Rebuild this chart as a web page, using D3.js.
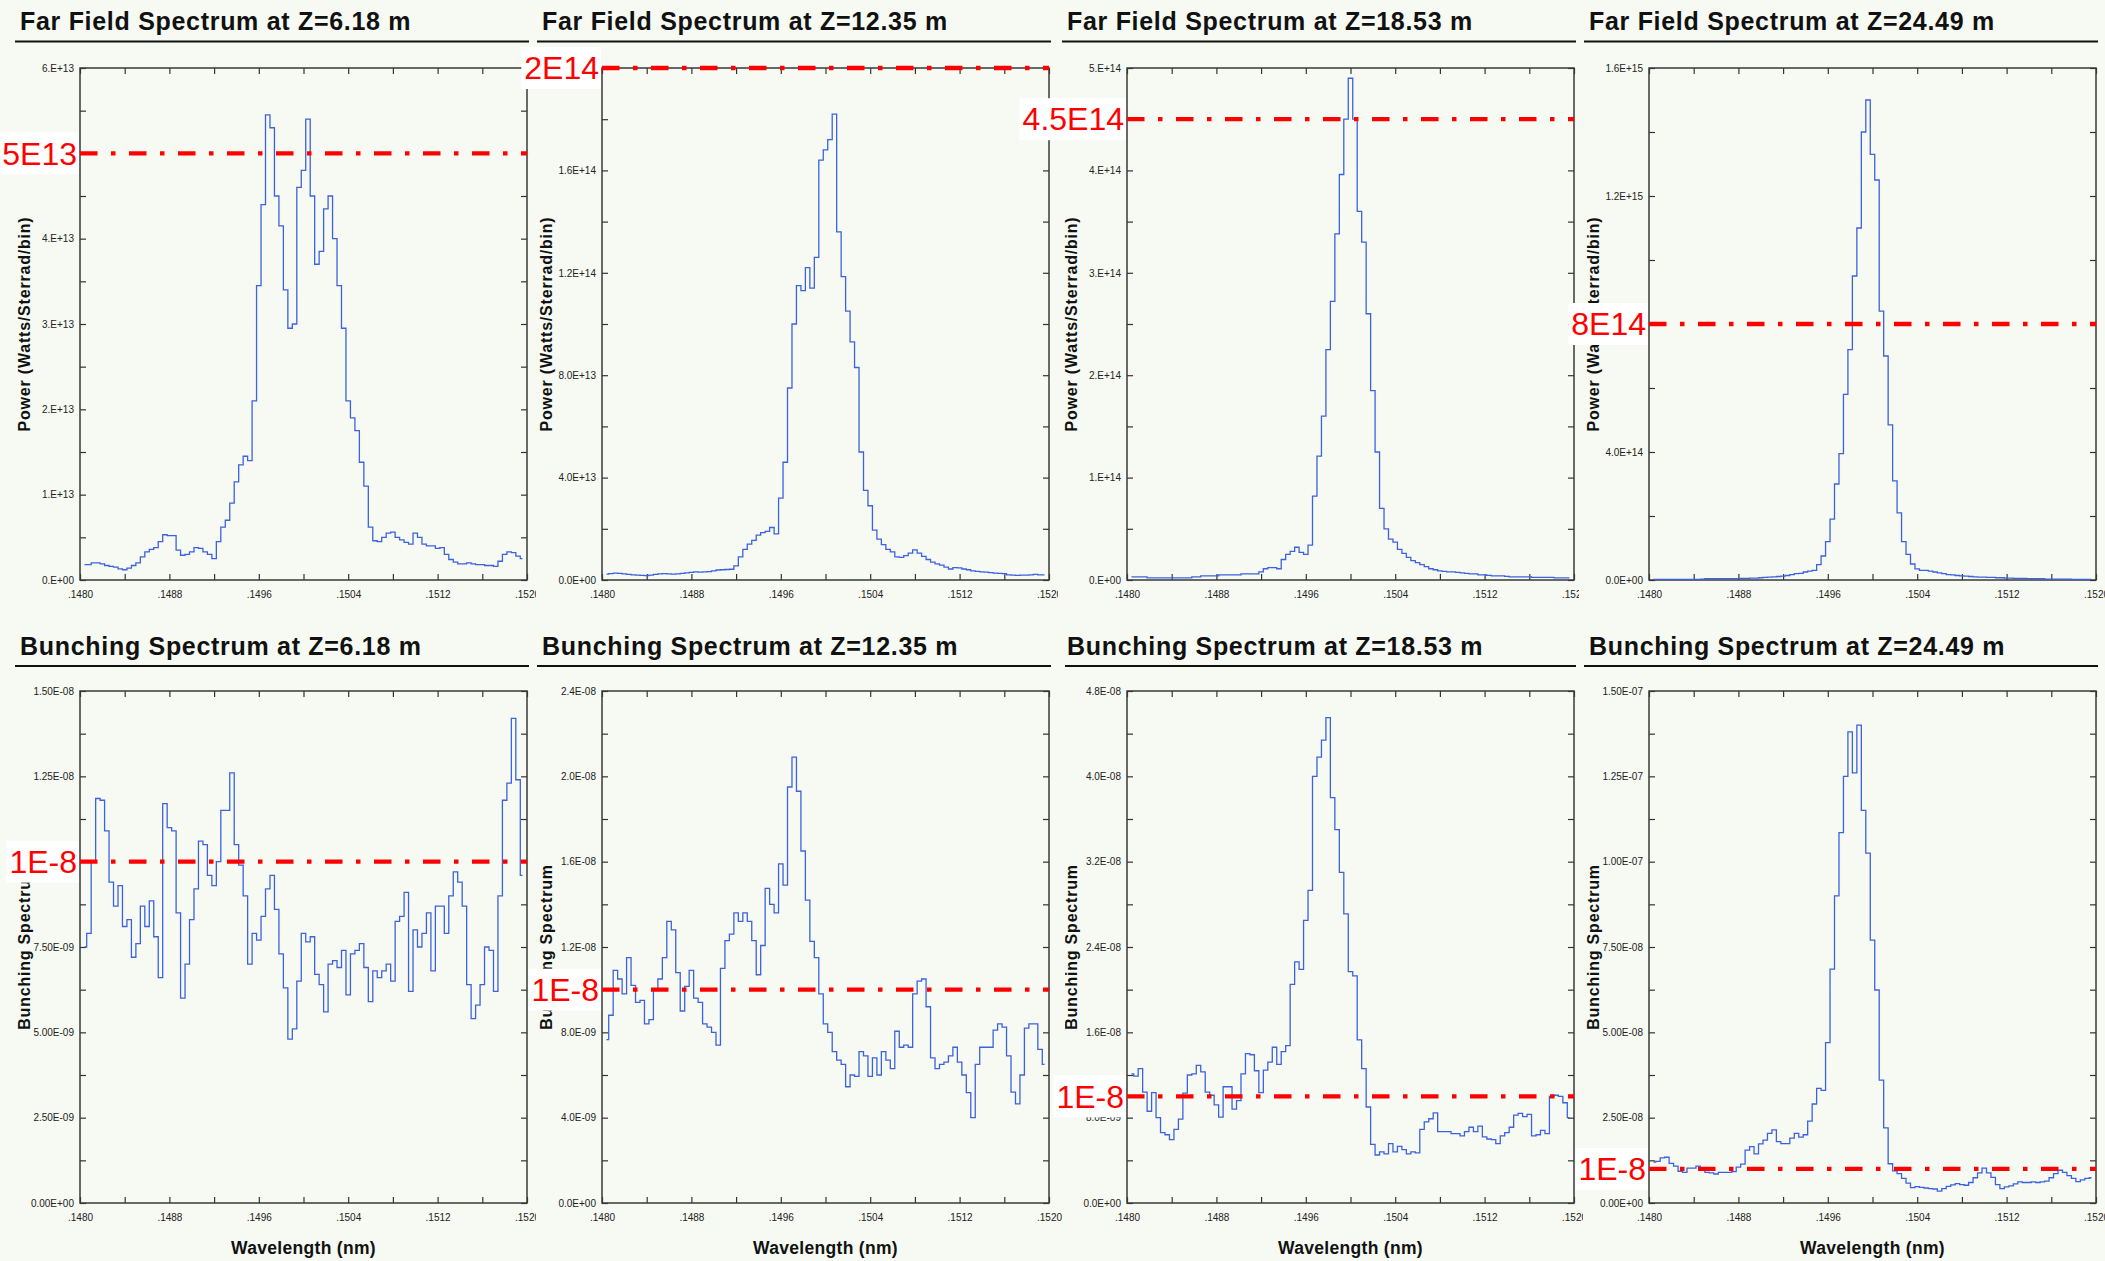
<!DOCTYPE html>
<html>
<head>
<meta charset="utf-8">
<script src="https://cdn.jsdelivr.net/npm/d3@7"></script>
<style>
  body { margin: 0; background: #f6faf3; }
  svg { display: block; font-family: "Liberation Sans", Arial, Helvetica, sans-serif; }
</style>
</head>
<body>
<svg id="chart" width="2105" height="1261"></svg>
<script>
// Data

// wavelength samples (nm)
const wavelength = [
  .14804,.14808,.14812,.14816,.14820,.14824,.14828,.14832,.14836,.14840,
  .14844,.14848,.14852,.14856,.14860,.14864,.14868,.14872,.14876,.14880,
  .14884,.14888,.14892,.14896,.14900,.14904,.14908,.14912,.14916,.14920,
  .14924,.14928,.14932,.14936,.14940,.14944,.14948,.14952,.14956,.14960,
  .14964,.14968,.14972,.14976,.14980,.14984,.14988,.14992,.14996,.15000,
  .15004,.15008,.15012,.15016,.15020,.15024,.15028,.15032,.15036,.15040,
  .15044,.15048,.15052,.15056,.15060,.15064,.15068,.15072,.15076,.15080,
  .15084,.15088,.15092,.15096,.15100,.15104,.15108,.15112,.15116,.15120,
  .15124,.15128,.15132,.15136,.15140,.15144,.15148,.15152,.15156,.15160,
  .15164,.15168,.15172,.15176,.15180,.15184,.15188,.15192,.15196
];

// far field power, units of 1e13
const farField618 = [
  0.18,0.18,0.2,0.2,0.19,0.17,0.16,0.15,0.13,0.12,
  0.14,0.17,0.2,0.27,0.33,0.36,0.38,0.45,0.53,0.52,
  0.52,0.35,0.29,0.3,0.33,0.38,0.37,0.33,0.3,0.25,
  0.45,0.62,0.7,0.9,1.15,1.35,1.45,1.4,2.1,3.45,
  4.4,5.45,5.3,4.5,4.15,3.4,2.95,3.0,4.6,4.8,
  5.4,4.5,3.7,3.85,4.35,4.5,4.0,3.45,2.95,2.1,
  1.9,1.75,1.38,1.1,0.62,0.46,0.45,0.5,0.55,0.56,
  0.5,0.47,0.44,0.42,0.55,0.5,0.42,0.4,0.4,0.37,
  0.38,0.3,0.24,0.21,0.19,0.19,0.2,0.19,0.18,0.18,
  0.17,0.17,0.16,0.22,0.3,0.33,0.32,0.28,0.25
];
// units of 1e13
const farField1235 = [
  0.23,0.25,0.27,0.26,0.24,0.22,0.2,0.19,0.18,0.17,
  0.19,0.22,0.24,0.25,0.24,0.23,0.24,0.26,0.28,0.3,
  0.32,0.31,0.32,0.33,0.36,0.39,0.4,0.41,0.42,0.55,
  0.9,1.2,1.4,1.55,1.75,1.85,1.9,2.05,1.8,3.2,
  4.6,7.5,10.0,11.5,11.3,12.2,11.4,12.6,16.4,16.8,
  17.2,18.2,13.6,11.85,10.5,9.3,8.3,5.0,3.5,2.9,
  1.95,1.6,1.38,1.2,1.1,0.9,0.88,0.95,1.05,1.18,
  1.05,0.92,0.8,0.7,0.63,0.58,0.5,0.43,0.48,0.47,
  0.43,0.4,0.36,0.34,0.32,0.31,0.29,0.27,0.26,0.25,
  0.2,0.19,0.18,0.19,0.19,0.2,0.22,0.2,0.2
];
// units of 1e14
const farField1853 = [
  0.03,0.03,0.03,0.03,0.02,0.02,0.02,0.02,0.02,0.02,
  0.02,0.02,0.02,0.02,0.03,0.03,0.04,0.04,0.04,0.04,
  0.05,0.05,0.05,0.05,0.05,0.06,0.06,0.06,0.06,0.08,
  0.11,0.12,0.12,0.11,0.2,0.25,0.28,0.32,0.27,0.25,
  0.34,0.82,1.21,1.6,2.25,2.72,3.38,3.96,4.5,4.9,
  4.5,3.6,3.3,2.6,1.85,1.25,0.7,0.5,0.4,0.37,
  0.3,0.26,0.22,0.19,0.17,0.15,0.13,0.11,0.1,0.09,
  0.085,0.08,0.08,0.075,0.07,0.065,0.06,0.06,0.05,0.05,
  0.045,0.04,0.04,0.04,0.035,0.03,0.03,0.03,0.03,0.03,
  0.025,0.025,0.025,0.025,0.025,0.02,0.02,0.02,0.02
];
// units of 1e14
const farField2449 = [
  0.02,0.02,0.02,0.02,0.02,0.02,0.02,0.02,0.02,0.02,
  0.02,0.03,0.04,0.04,0.04,0.04,0.04,0.04,0.04,0.04,
  0.05,0.05,0.06,0.06,0.07,0.08,0.09,0.1,0.11,0.12,
  0.14,0.17,0.2,0.21,0.25,0.28,0.3,0.48,0.75,1.2,
  1.9,3.0,3.95,5.8,7.2,9.5,11.0,14.0,15.0,13.3,
  12.5,8.4,7.0,4.85,3.1,2.1,1.2,0.8,0.5,0.35,
  0.3,0.3,0.28,0.25,0.22,0.2,0.17,0.16,0.14,0.13,
  0.12,0.11,0.1,0.09,0.09,0.08,0.08,0.07,0.07,0.06,
  0.06,0.05,0.05,0.05,0.04,0.04,0.04,0.04,0.03,0.03,
  0.03,0.03,0.03,0.03,0.02,0.02,0.02,0.02,0.02
];

// bunching spectrum, units of 1e-9
const bunching618 = [
  7.5,7.9,10.0,11.85,11.8,10.9,9.4,8.7,9.3,8.1,
  8.3,7.2,7.6,8.7,8.1,8.85,7.8,6.6,11.7,11.0,
  10.9,8.5,6.0,7.0,8.3,9.2,10.6,10.5,9.6,9.3,
  10.0,11.5,11.5,12.6,10.5,9.9,9.0,7.0,7.9,7.7,
  8.4,9.2,9.6,8.6,7.3,6.3,4.8,5.1,6.5,7.9,
  7.65,7.8,6.7,6.4,5.6,7.0,7.1,6.9,7.4,6.1,
  7.3,7.4,7.6,6.9,5.9,6.8,6.6,6.8,7.0,6.5,
  8.25,8.4,9.1,6.2,8.0,7.5,7.9,8.5,6.8,8.7,
  8.7,7.9,9.0,9.7,9.4,8.7,6.4,5.4,5.8,6.4,
  7.5,7.4,6.2,9.0,11.8,12.3,14.2,12.4,9.6
];
const bunching1235 = [
  7.66,8.8,10.9,10.5,9.8,11.5,10.2,9.4,9.5,8.4,
  8.6,10.0,10.5,11.5,13.2,12.8,10.8,9.0,10.15,10.9,
  9.6,9.4,8.4,8.24,8.0,7.4,11.0,12.3,12.6,13.6,
  13.2,13.6,13.2,12.3,10.7,12.07,14.75,14.0,13.6,15.9,
  14.9,19.5,20.9,19.3,16.5,14.2,12.26,11.5,9.8,8.4,
  8.0,7.1,6.7,6.5,5.45,6.0,5.94,7.1,6.9,5.94,
  6.8,6.0,7.1,6.7,6.3,8.05,7.3,7.4,7.3,9.8,
  10.4,10.5,9.2,6.8,6.3,6.5,6.6,6.9,7.3,6.6,
  6.0,5.17,4.0,6.5,7.3,7.3,7.3,8.1,8.4,8.24,
  6.9,5.2,4.65,6.0,8.2,8.4,8.4,7.2,6.5
];
const bunching1853 = [
  12.1,11.9,12.6,10.4,8.6,10.35,8.0,6.6,6.4,5.94,
  6.9,7.86,10.3,12.0,12.1,12.9,12.3,10.4,10.1,9.2,
  8.05,10.9,10.9,8.8,9.6,12.1,14.0,13.9,12.4,10.35,
  12.46,13.2,14.6,13.0,14.2,14.76,20.5,22.6,21.9,26.5,
  29.3,40.0,41.8,43.4,45.5,38.0,35.0,31.0,27.1,21.7,
  21.3,15.3,12.6,9.0,5.5,4.5,4.8,4.6,5.56,4.8,
  5.3,5.0,4.6,4.8,4.7,6.9,7.6,7.9,8.44,6.7,
  6.7,6.7,6.5,6.5,6.3,6.7,7.1,6.7,7.2,6.2,
  6.0,5.94,5.56,6.3,6.6,7.1,8.24,8.4,8.1,8.3,
  6.3,6.4,6.8,6.5,10.0,10.1,10.0,9.4,8.0
];
const bunching2449 = [
  12.0,12.2,13.2,13.4,11.6,10.8,9.3,9.0,10.2,10.2,
  10.8,9.6,9.0,8.8,8.5,9.0,9.0,9.0,9.2,10.5,
  11.4,15.5,16.5,14.4,17.3,18.4,20.4,21.4,18.0,17.4,
  17.4,19.0,20.4,19.3,20.0,24.0,29.0,33.6,33.0,47.0,
  68.5,90.0,108.5,125.0,138.0,126.0,140.0,115.0,102.5,77.0,
  62.4,36.0,22.0,11.5,9.4,8.6,7.2,5.8,4.5,4.8,
  4.6,4.4,4.2,4.1,3.5,4.2,4.9,5.3,5.7,5.4,
  5.2,6.0,7.4,8.8,10.2,8.8,7.5,5.4,4.2,4.7,
  5.0,5.6,6.2,6.0,6.0,6.2,6.0,6.2,6.4,7.4,
  8.6,9.6,9.0,8.0,7.2,6.24,6.8,7.2,7.4
];

// Ticks and labels

const xTicks = [0.1480,0.1484,0.1488,0.1492,0.1496,0.1500,0.1504,0.1508,0.1512,0.1516,0.1520];
const xTickLabels = [".1480","",".1488","",".1496","",".1504","",".1512","",".1520"];

const yTicks618 = [0,1,2,3,4,5,6];
const yLabels618 = ["0.E+00","1.E+13","2.E+13","3.E+13","4.E+13","5.E+13","6.E+13"];
const yTicks1235 = [0,4,8,12,16,20];
const yLabels1235 = ["0.0E+00","4.0E+13","8.0E+13","1.2E+14","1.6E+14","2.0E+14"];
const yTicks1853 = [0,1,2,3,4,5];
const yLabels1853 = ["0.E+00","1.E+14","2.E+14","3.E+14","4.E+14","5.E+14"];
const yTicks2449 = [0,4,8,12,16];
const yLabels2449 = ["0.0E+00","4.0E+14","8.0E+14","1.2E+15","1.6E+15"];

const bTicks618 = [0,2.5,5,7.5,10,12.5,15];
const bLabels618 = ["0.00E+00","2.50E-09","5.00E-09","7.50E-09","1.00E-08","1.25E-08","1.50E-08"];
const bTicks1235 = [0,4,8,12,16,20,24];
const bLabels1235 = ["0.0E+00","4.0E-09","8.0E-09","1.2E-08","1.6E-08","2.0E-08","2.4E-08"];
const bTicks1853 = [0,8,16,24,32,40,48];
const bLabels1853 = ["0.0E+00","8.0E-09","1.6E-08","2.4E-08","3.2E-08","4.0E-08","4.8E-08"];
const bTicks2449 = [0,25,50,75,100,125,150];
const bLabels2449 = ["0.00E+00","2.50E-08","5.00E-08","7.50E-08","1.00E-07","1.25E-07","1.50E-07"];

const titles = [
  "Far Field Spectrum at Z=6.18 m", "Far Field Spectrum at Z=12.35 m",
  "Far Field Spectrum at Z=18.53 m", "Far Field Spectrum at Z=24.49 m",
  "Bunching Spectrum at Z=6.18 m", "Bunching Spectrum at Z=12.35 m",
  "Bunching Spectrum at Z=18.53 m", "Bunching Spectrum at Z=24.49 m"
];
const yTitleFar = "Power (Watts/Sterrad/bin)";
const yTitleBunch = "Bunching Spectrum";
const xTitle = "Wavelength (nm)";

// red marker levels (same units as the series)
const refValues = [5, 20, 4.5, 8, 10, 10, 10, 10];
const refLabels = ["5E13", "2E14", "4.5E14", "8E14", "1E-8", "1E-8", "1E-8", "1E-8"];

const panels = [
  {values: farField618,  ticks: yTicks618,  labels: yLabels618,  yTitle: yTitleFar},
  {values: farField1235, ticks: yTicks1235, labels: yLabels1235, yTitle: yTitleFar},
  {values: farField1853, ticks: yTicks1853, labels: yLabels1853, yTitle: yTitleFar},
  {values: farField2449, ticks: yTicks2449, labels: yLabels2449, yTitle: yTitleFar},
  {values: bunching618,  ticks: bTicks618,  labels: bLabels618,  yTitle: yTitleBunch},
  {values: bunching1235, ticks: bTicks1235, labels: bLabels1235, yTitle: yTitleBunch},
  {values: bunching1853, ticks: bTicks1853, labels: bLabels1853, yTitle: yTitleBunch},
  {values: bunching2449, ticks: bTicks2449, labels: bLabels2449, yTitle: yTitleBunch}
];

// Layout

const colLeft = [80, 602, 1127, 1649];
const rowTop = [68, 691];
const plotW = 447, plotH = 512;
const titleY = [30, 655];
const ruleY = [41.5, 666];
const clipCols = [
  [[0, 536], [536, 1058], [1058, 1579], [1579, 2105]],
  [[0, 536], [536, 1065], [1065, 1583], [1583, 2105]]
];

const svg = d3.select("#chart");
const x = d3.scaleLinear().domain([0.1480, 0.1520]).range([0, plotW]);
const marks = [];

function styleAxis(sel) {
  sel.select(".domain").remove();
  sel.selectAll("line").attr("stroke", "#333").attr("stroke-width", 1.2);
  sel.selectAll("text")
    .attr("font-size", 10)
    .attr("font-family", "'Liberation Sans', Arial, sans-serif")
    .attr("fill", "#222");
}

panels.forEach((p, i) => {
  const row = Math.floor(i / 4), col = i % 4;
  const left = colLeft[col], top = rowTop[row];
  const clip = clipCols[row][col];

  svg.append("clipPath").attr("id", "clip" + i)
    .append("rect")
      .attr("x", clip[0]).attr("y", row ? 612 : 0)
      .attr("width", clip[1] - clip[0]).attr("height", row ? 649 : 612);

  const outer = svg.append("g").attr("clip-path", "url(#clip" + i + ")");
  const g = outer.append("g").attr("transform", "translate(" + left + "," + top + ")");

  const y = d3.scaleLinear().domain([0, d3.max(p.ticks)]).range([plotH, 0]);
  const minor = d3.pairs(p.ticks).map(d => (d[0] + d[1]) / 2);
  const allY = p.ticks.concat(minor);
  const yLabel = d => {
    const k = p.ticks.indexOf(d);
    return k >= 0 ? p.labels[k] : "";
  };

  // title + rule
  outer.append("text")
    .attr("x", left - 60).attr("y", titleY[row])
    .attr("font-size", 25).attr("font-weight", "bold")
    .attr("letter-spacing", 0.7).attr("fill", "#111")
    .text(titles[i]);
  outer.append("line")
    .attr("x1", left - 65).attr("x2", left + plotW + 2)
    .attr("y1", ruleY[row]).attr("y2", ruleY[row])
    .attr("stroke", "#111").attr("stroke-width", 2);

  // axes, ticks inward on all sides
  g.append("g")
    .call(d3.axisLeft(y).tickValues(allY).tickSizeInner(-6).tickSizeOuter(0)
      .tickPadding(6).tickFormat(yLabel))
    .call(styleAxis);
  g.append("g").attr("transform", "translate(" + plotW + ",0)")
    .call(d3.axisRight(y).tickValues(allY).tickSizeInner(-6).tickSizeOuter(0).tickFormat(""))
    .call(styleAxis);
  g.append("g")
    .call(d3.axisTop(x).tickValues(xTicks).tickSizeInner(-6).tickSizeOuter(0).tickFormat(""))
    .call(styleAxis);
  g.append("g").attr("transform", "translate(0," + plotH + ")")
    .call(d3.axisBottom(x).tickValues(xTicks).tickSizeInner(-6).tickSizeOuter(0)
      .tickPadding(11).tickFormat((d, k) => xTickLabels[k]))
    .call(styleAxis);

  g.append("rect")
    .attr("width", plotW).attr("height", plotH)
    .attr("fill", "none").attr("stroke", "#3a3a3a").attr("stroke-width", 1.5);

  // spectrum
  const line = d3.line()
    .x(d => x(d[0]))
    .y(d => y(d[1]))
    .curve(d3.curveStep);
  g.append("path")
    .datum(p.values.map((v, k) => [wavelength[k], v]))
    .attr("d", line)
    .attr("fill", "none")
    .attr("stroke", "#3d62de")
    .attr("stroke-width", 1.3);

  // dash-dot level
  const ry = y(refValues[i]);
  g.append("line")
    .attr("x1", 0).attr("x2", plotW).attr("y1", ry).attr("y2", ry)
    .attr("stroke", "#ff0000").attr("stroke-width", 4.3)
    .attr("stroke-dasharray", "17.5,13.5,4.5,13.5");

  // axis titles
  outer.append("text")
    .attr("transform", "translate(" + (left - 55.5) + "," + (top + plotH / 2) + ") rotate(-90)")
    .attr("text-anchor", "middle").attr("dy", "0.35em")
    .attr("font-size", 16).attr("font-weight", "bold").attr("letter-spacing", 0.8)
    .attr("fill", "#111")
    .text(p.yTitle);
  if (row == 1) {
    outer.append("text")
      .attr("x", left + plotW / 2).attr("y", top + plotH + 51)
      .attr("text-anchor", "middle")
      .attr("font-size", 17.5).attr("font-weight", "bold").attr("letter-spacing", 0.3)
      .attr("fill", "#111")
      .text(xTitle);
  }

  marks.push({x: left - 3, y: top + ry, label: refLabels[i]});
});

// red level labels sit on top of everything, white box behind
const labelLayer = svg.append("g");
marks.forEach(m => {
  const grp = labelLayer.append("g");
  const t = grp.append("text")
    .attr("x", m.x).attr("y", m.y).attr("dy", "0.35em")
    .attr("text-anchor", "end")
    .attr("font-size", 32).attr("fill", "#ff0000")
    .text(m.label);
  const bb = t.node().getBBox();
  grp.insert("rect", "text")
    .attr("x", bb.x - 3).attr("y", m.y - 21)
    .attr("width", bb.width + 5).attr("height", 42)
    .attr("fill", "#ffffff");
});
</script>
</body>
</html>
